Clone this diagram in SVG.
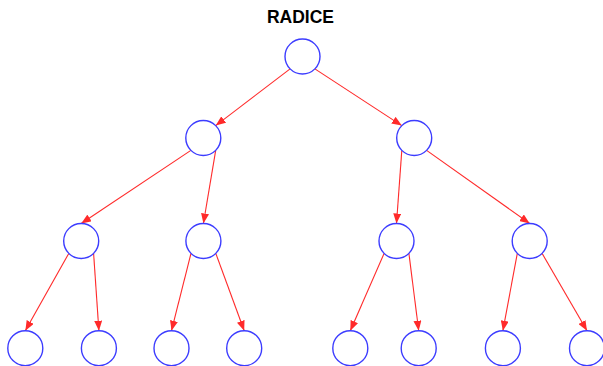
<svg xmlns="http://www.w3.org/2000/svg" width="603" height="366" viewBox="0 0 603 366">
<style>
.node{fill:#ffffff;stroke:#3c3cff;stroke-width:1.4}
.edge{stroke:#ff2a2a;stroke-width:1.1;fill:none}
.title{font-family:"Liberation Sans",Arial,sans-serif;font-weight:bold;font-size:17.5px;fill:#000}
</style>
<defs>
<marker id="arr" markerUnits="userSpaceOnUse" markerWidth="10" markerHeight="8" refX="10" refY="4" orient="auto">
<path d="M0,0 L10,4 L0,8 z" fill="#ff2a2a"/>
</marker>
</defs>
<rect width="603" height="366" fill="#ffffff"/>
<text class="title" x="300.5" y="22.5" text-anchor="middle">RADICE</text>
<g id="connectors">
<line class="edge" marker-end="url(#arr)" x1="290.1" y1="68.9" x2="215.7" y2="125.6"/>
<line class="edge" marker-end="url(#arr)" x1="314.9" y1="68.9" x2="401.8" y2="125.6"/>
<line class="edge" marker-end="url(#arr)" x1="190.9" y1="150.4" x2="81.2" y2="223.5"/>
<line class="edge" marker-end="url(#arr)" x1="215.7" y1="150.4" x2="203.4" y2="223.5"/>
<line class="edge" marker-end="url(#arr)" x1="401.8" y1="150.4" x2="396.5" y2="223.5"/>
<line class="edge" marker-end="url(#arr)" x1="426.6" y1="150.4" x2="529.7" y2="223.5"/>
<line class="edge" marker-end="url(#arr)" x1="68.8" y1="253.4" x2="25.3" y2="330.7"/>
<line class="edge" marker-end="url(#arr)" x1="93.6" y1="253.4" x2="98.9" y2="330.7"/>
<line class="edge" marker-end="url(#arr)" x1="191" y1="253.4" x2="171.5" y2="330.7"/>
<line class="edge" marker-end="url(#arr)" x1="215.8" y1="253.4" x2="244.2" y2="330.7"/>
<line class="edge" marker-end="url(#arr)" x1="384.1" y1="253.4" x2="350.3" y2="330.7"/>
<line class="edge" marker-end="url(#arr)" x1="408.9" y1="253.4" x2="418.7" y2="330.7"/>
<line class="edge" marker-end="url(#arr)" x1="517.3" y1="253.4" x2="502.9" y2="330.7"/>
<line class="edge" marker-end="url(#arr)" x1="542.1" y1="253.4" x2="587" y2="330.7"/>
</g>
<g id="root"><circle class="node" cx="302.5" cy="56.5" r="17.5"/></g>
<g id="n1l"><circle class="node" cx="203.3" cy="138" r="17.5"/></g>
<g id="n1r"><circle class="node" cx="414.2" cy="138" r="17.5"/></g>
<g id="n2a"><circle class="node" cx="81.2" cy="241" r="17.5"/></g>
<g id="n2b"><circle class="node" cx="203.4" cy="241" r="17.5"/></g>
<g id="n2c"><circle class="node" cx="396.5" cy="241" r="17.5"/></g>
<g id="n2d"><circle class="node" cx="529.7" cy="241" r="17.5"/></g>
<g id="n3a"><circle class="node" cx="25.3" cy="348.2" r="17.5"/></g>
<g id="n3b"><circle class="node" cx="98.9" cy="348.2" r="17.5"/></g>
<g id="n3c"><circle class="node" cx="171.5" cy="348.2" r="17.5"/></g>
<g id="n3d"><circle class="node" cx="244.2" cy="348.2" r="17.5"/></g>
<g id="n3e"><circle class="node" cx="350.3" cy="348.2" r="17.5"/></g>
<g id="n3f"><circle class="node" cx="418.7" cy="348.2" r="17.5"/></g>
<g id="n3g"><circle class="node" cx="502.9" cy="348.2" r="17.5"/></g>
<g id="n3h"><circle class="node" cx="587" cy="348.2" r="17.5"/></g>
</svg>
